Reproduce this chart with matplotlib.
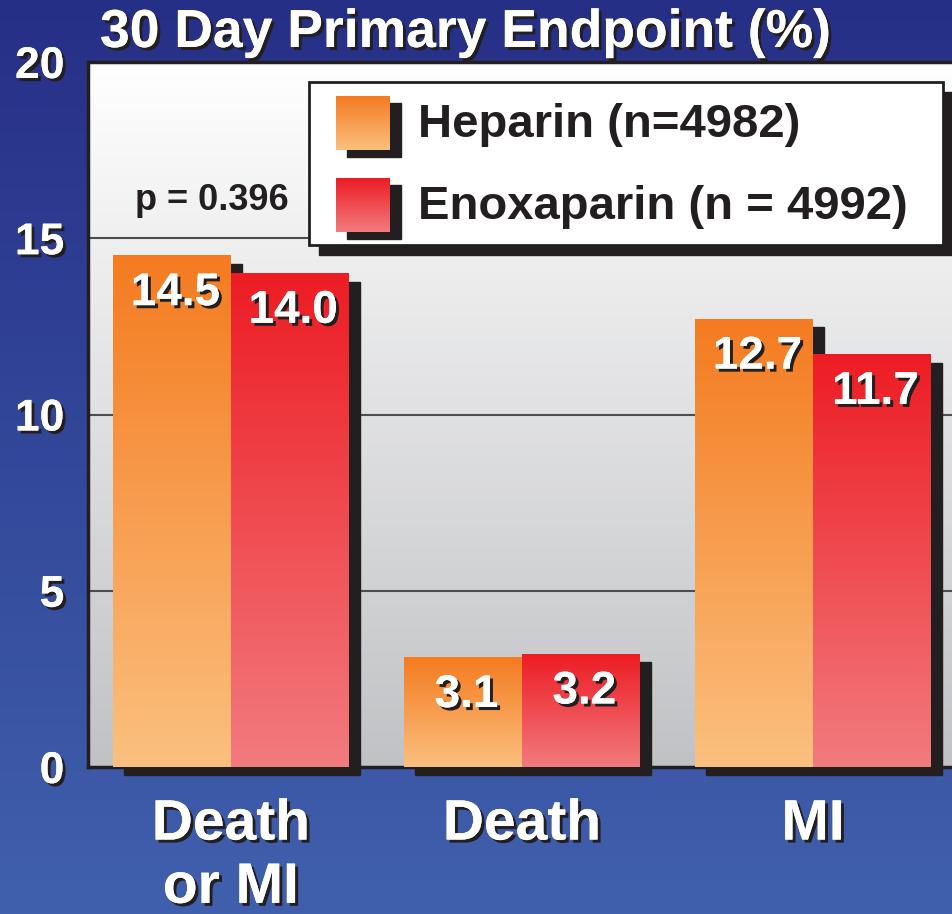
import numpy as np
import matplotlib.pyplot as plt
from matplotlib import patheffects as pe
from matplotlib.colors import LinearSegmentedColormap
from matplotlib.patches import Rectangle
from matplotlib.transforms import offset_copy

plt.rcParams['font.family'] = ['Liberation Sans', 'DejaVu Sans']

# data
categories = ["Death\nor MI", "Death", "MI"]
heparin = [14.5, 3.1, 12.7]
enoxaparin = [14.0, 3.2, 11.7]
series_labels = ["Heparin (n=4982)", "Enoxaparin (n = 4992)"]
p_text = "p = 0.396"
title = "30 Day Primary Endpoint (%)"
yticks = [0, 5, 10, 15, 20]

W, H = 953, 914
fig = plt.figure(figsize=(W / 100, H / 100), dpi=100)


def fx(x):
    return x / W


def fy(y):
    return 1 - y / H


def cmap(name, top, bottom):
    return LinearSegmentedColormap.from_list(name, [top, bottom])


grad = np.linspace(0, 1, 256).reshape(-1, 1)
hep_cmap = cmap("hep", "#F47B20", "#FBC07F")
enx_cmap = cmap("enx", "#ED1C24", "#F27B7E")
dark = "#231F20"
shadow = [pe.withSimplePatchShadow(offset=(2.2, -2.2), shadow_rgbFace=dark, alpha=1), pe.Normal()]

# blue slide background
bg = fig.add_axes([0, 0, 1, 1], zorder=-10)
bg.imshow(grad, cmap=cmap("bg", "#262F86", "#4060AD"), aspect="auto", extent=[0, 1, 0, 1])
bg.axis("off")

ax = fig.add_axes([fx(88), fy(767), fx(953) - fx(88), (767 - 62) / H])
xmin, xmax = -0.491, 2.481
ax.imshow(grad, cmap=cmap("plot", "#FFFFFF", "#C1C2C5"), aspect="auto",
          extent=[xmin, xmax, 0, 20], zorder=0)
for y in yticks[1:-1]:
    ax.axhline(y, color="#4D4D4F", lw=1.5, zorder=1)

w = 0.405
x = np.arange(len(categories))
shadow_tr = offset_copy(ax.transData, fig=fig, x=11, y=-8, units="dots")
groups = [(heparin, -w / 2, hep_cmap), (enoxaparin, w / 2, enx_cmap)]

# shadows first, then the bars on top
for vals, off, cm in groups:
    for xi, v in zip(x, vals):
        ax.add_patch(Rectangle((xi + off - w / 2, 0), w, v, transform=shadow_tr,
                               color=dark, zorder=2, clip_on=False))
for vals, off, cm in groups:
    for xi, v in zip(x, vals):
        x0 = xi + off - w / 2
        ax.imshow(grad, cmap=cm, aspect="auto", extent=[x0, x0 + w, 0, v],
                  zorder=3, interpolation="bicubic")
        ax.annotate(f"{v:.1f}", xy=(xi + off + 0.012, v), xytext=(0, -11),
                    textcoords="offset points", ha="center", va="top",
                    fontsize=33, fontweight="bold", color="white",
                    path_effects=shadow, zorder=5)

ax.set_xlim(xmin, xmax)
ax.set_ylim(0, 20)
for s in ["left", "top", "bottom"]:
    ax.spines[s].set_color(dark)
    ax.spines[s].set_linewidth(2.5)
ax.spines["right"].set_visible(False)

ax.set_yticks(yticks)
ax.set_xticks(x, categories)
ax.tick_params(axis="y", length=0, pad=17, labelsize=32, labelcolor="white")
ax.tick_params(axis="x", length=0, pad=22, labelsize=41, labelcolor="white")
for lab in ax.get_xticklabels() + ax.get_yticklabels():
    lab.set_fontweight("bold")
    lab.set_path_effects(shadow)
for lab in ax.get_xticklabels():
    lab.set_linespacing(1.22)

fig.text(fx(100), fy(33), title, ha="left", va="center", fontsize=38.5,
         fontweight="bold", color="white", path_effects=shadow)
fig.text(fx(135), fy(200), p_text, ha="left", va="center", fontsize=26,
         fontweight="bold", color=dark)

# legend box with drop shadow
bx0, by0, bx1, by1 = 309, 82, 943, 245
fig.add_artist(Rectangle((fx(bx0 + 10), fy(by1 + 10)), (bx1 - bx0) / W, (by1 - by0) / H,
                         transform=fig.transFigure, color=dark, zorder=2))
fig.add_artist(Rectangle((fx(bx0), fy(by1)), (bx1 - bx0) / W, (by1 - by0) / H,
                         transform=fig.transFigure, facecolor="white", edgecolor=dark,
                         lw=2, zorder=3))
for (sy, label, cm) in [(96, series_labels[0], hep_cmap), (178, series_labels[1], enx_cmap)]:
    fig.add_artist(Rectangle((fx(336 + 11), fy(sy + 54 + 7)), 54 / W, 54 / H,
                             transform=fig.transFigure, color=dark, zorder=4))
    sw = fig.add_axes([fx(336), fy(sy + 54), 54 / W, 54 / H], zorder=5)
    sw.imshow(grad, cmap=cm, aspect="auto", extent=[0, 1, 0, 1])
    sw.axis("off")
    fig.text(fx(418), fy(sy + 29), label, ha="left", va="center", fontsize=34,
             fontweight="bold", color=dark, zorder=6)

fig.savefig("out.png", dpi=100)
